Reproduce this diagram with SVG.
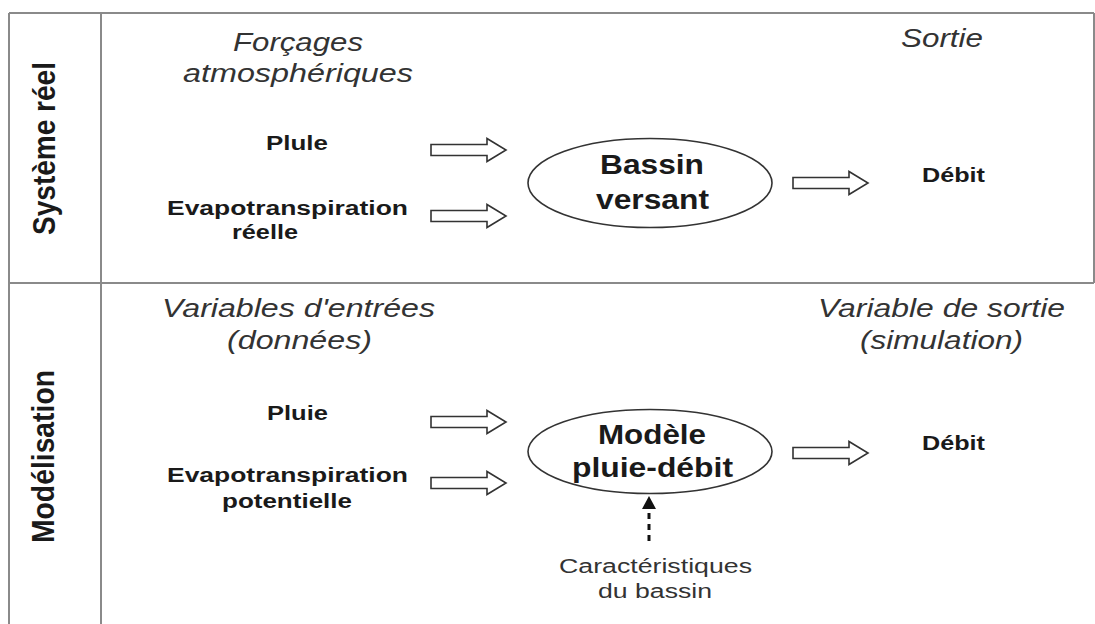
<svg xmlns="http://www.w3.org/2000/svg" xmlns:xlink="http://www.w3.org/1999/xlink" width="1095" height="624" viewBox="0 0 1095 624">
<style>
text{font-family:"Liberation Sans",Arial,sans-serif}
.grid{stroke:#8a8a8a;stroke-width:2;fill:none}
.hdr{font-style:italic;font-size:25px;fill:#333}
.lbl{font-weight:bold;font-size:19.5px;fill:#1a1a1a}
.node{font-weight:bold;font-size:27px;fill:#1a1a1a}
.side{font-weight:bold;font-size:21px;fill:#1a1a1a}
.note{font-size:20px;fill:#333}
.ell{fill:#fff;stroke:#333;stroke-width:1.6}
.blk{fill:#fff;stroke:#333;stroke-width:1.6;stroke-linejoin:miter}
.dash{stroke:#111;stroke-width:3;stroke-dasharray:6 5;fill:none}
</style>
<defs>
<path id="blk" class="blk" d="M0,-5.5 H56 V-11.5 L75,0 L56,11.5 V5.5 H0 Z"/>
</defs>
<rect width="1095" height="624" fill="#fff"/>
<g id="table">
<line class="grid" x1="9" y1="13" x2="1094" y2="13"/>
<line class="grid" x1="9" y1="283" x2="1094" y2="283"/>
<line class="grid" x1="9" y1="13" x2="9" y2="624"/>
<line class="grid" x1="101" y1="13" x2="101" y2="624"/>
<line class="grid" x1="1094" y1="13" x2="1094" y2="283"/>
</g>
<g id="row-labels">
<text class="side" transform="translate(55,148.5) rotate(-90) scale(1,1.45)" x="-86.5" y="0" textLength="173" lengthAdjust="spacingAndGlyphs">Système réel</text>
<text class="side" transform="translate(54,456.5) rotate(-90) scale(1,1.45)" x="-86.5" y="0" textLength="173" lengthAdjust="spacingAndGlyphs">Modélisation</text>
</g>
<g id="headers">
<text class="hdr" x="233" y="51" textLength="130" lengthAdjust="spacingAndGlyphs">Forçages</text>
<text class="hdr" x="183" y="82" textLength="230" lengthAdjust="spacingAndGlyphs">atmosphériques</text>
<text class="hdr" x="901" y="47" textLength="82" lengthAdjust="spacingAndGlyphs">Sortie</text>
<text class="hdr" x="162" y="317" textLength="273" lengthAdjust="spacingAndGlyphs">Variables d'entrées</text>
<text class="hdr" x="227" y="349" textLength="145" lengthAdjust="spacingAndGlyphs">(données)</text>
<text class="hdr" x="818" y="317" textLength="247" lengthAdjust="spacingAndGlyphs">Variable de sortie</text>
<text class="hdr" x="860" y="349" textLength="163" lengthAdjust="spacingAndGlyphs">(simulation)</text>
</g>
<g id="pluie-reel">
<text class="lbl" x="266" y="150" textLength="62" lengthAdjust="spacingAndGlyphs">Plule</text>
</g>
<g id="etr">
<text class="lbl" x="167" y="215" textLength="241" lengthAdjust="spacingAndGlyphs">Evapotranspiration</text>
<text class="lbl" x="232" y="239" textLength="66" lengthAdjust="spacingAndGlyphs">réelle</text>
</g>
<g id="bassin">
<ellipse class="ell" cx="650" cy="183" rx="122" ry="44.5"/>
<text class="node" x="600" y="174" textLength="104" lengthAdjust="spacingAndGlyphs">Bassin</text>
<text class="node" x="596" y="209" textLength="113" lengthAdjust="spacingAndGlyphs">versant</text>
</g>
<g id="debit-reel">
<text class="lbl" x="922" y="182" textLength="63" lengthAdjust="spacingAndGlyphs">Débit</text>
</g>
<g id="pluie-mod">
<text class="lbl" x="267" y="420" textLength="61" lengthAdjust="spacingAndGlyphs">Pluie</text>
</g>
<g id="etp">
<text class="lbl" x="167" y="482" textLength="241" lengthAdjust="spacingAndGlyphs">Evapotranspiration</text>
<text class="lbl" x="222" y="508" textLength="130" lengthAdjust="spacingAndGlyphs">potentielle</text>
</g>
<g id="modele">
<ellipse class="ell" cx="650" cy="451.5" rx="122" ry="42"/>
<text class="node" x="598" y="444" textLength="108" lengthAdjust="spacingAndGlyphs">Modèle</text>
<text class="node" x="572" y="477" textLength="161" lengthAdjust="spacingAndGlyphs">pluie-débit</text>
</g>
<g id="debit-mod">
<text class="lbl" x="922" y="450" textLength="63" lengthAdjust="spacingAndGlyphs">Débit</text>
</g>
<g id="caracteristiques">
<text class="note" x="559" y="573" textLength="193" lengthAdjust="spacingAndGlyphs">Caractéristiques</text>
<text class="note" x="598" y="598" textLength="114" lengthAdjust="spacingAndGlyphs">du bassin</text>
</g>
<g id="connectors">
<use xlink:href="#blk" x="431" y="150"/>
<use xlink:href="#blk" x="431" y="216"/>
<use xlink:href="#blk" x="793" y="183"/>
<use xlink:href="#blk" x="431" y="422"/>
<use xlink:href="#blk" x="431" y="483"/>
<use xlink:href="#blk" x="793" y="453"/>
<line class="dash" x1="649" y1="541" x2="649" y2="508"/>
<path d="M649,496 L656,509 L642,509 Z" fill="#111"/>
</g>
</svg>
